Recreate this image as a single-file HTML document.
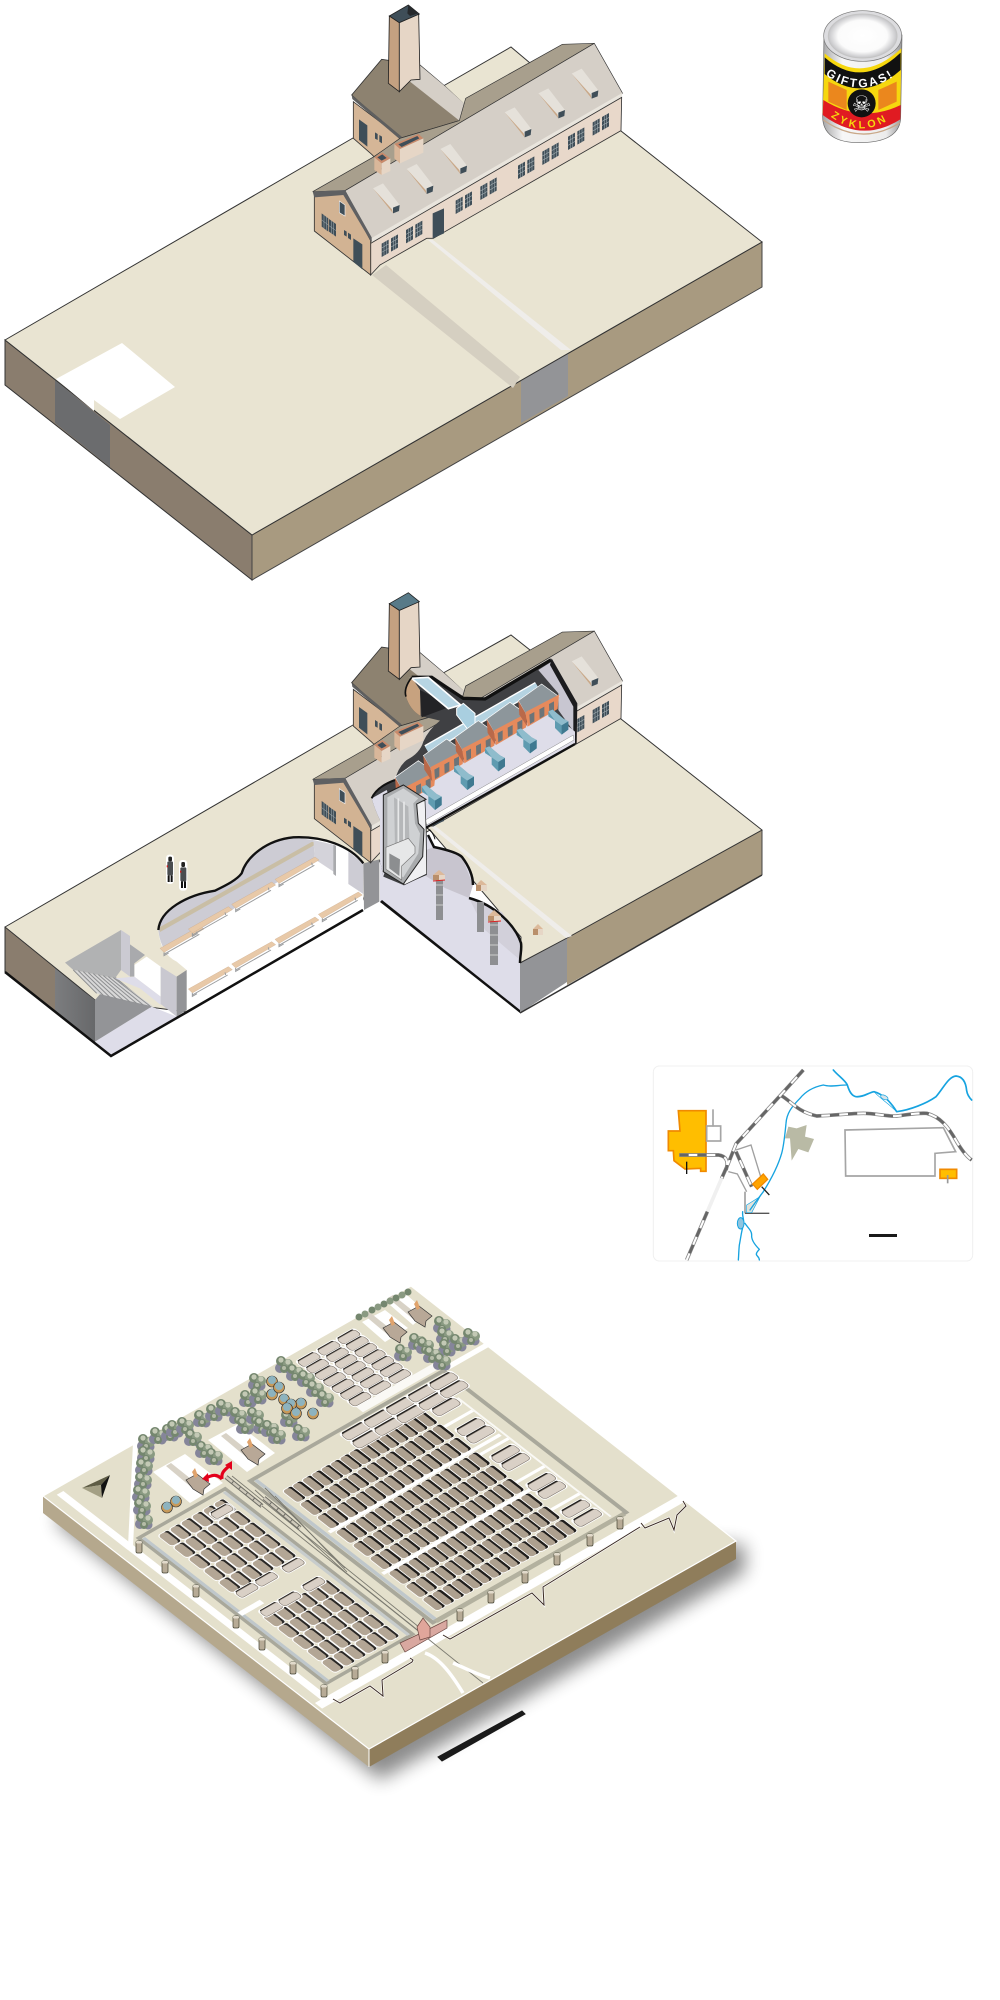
<!DOCTYPE html>
<html lang="de"><head><meta charset="utf-8"><title>Diagram</title>
<style>html,body{margin:0;padding:0;background:#fff}svg{display:block}</style></head>
<body>
<svg width="1000" height="2000" viewBox="0 0 1000 2000" xmlns="http://www.w3.org/2000/svg" font-family="'Liberation Sans',sans-serif">
<defs>
<filter id="blur" x="-20%" y="-20%" width="140%" height="140%"><feGaussianBlur stdDeviation="9"/></filter>
<linearGradient id="metal" x1="0" x2="1" y1="0" y2="0"><stop offset="0" stop-color="#a5a5a7"/><stop offset=".25" stop-color="#f7f7f7"/><stop offset=".8" stop-color="#ececec"/><stop offset="1" stop-color="#98989a"/></linearGradient>
<radialGradient id="lid"><stop offset="0" stop-color="#fff"/><stop offset=".72" stop-color="#fbfbfb"/><stop offset="1" stop-color="#c4c4c7"/></radialGradient>
<linearGradient id="sh" x1="0" x2="1" y1="0" y2="0"><stop offset="0" stop-color="#7c7d7f"/><stop offset="1" stop-color="#67686a"/></linearGradient>

<g id="win"><polygon points="0,0 21,-12 21,28 0,40" fill="#3f4e58"/><path d="M7,-4V36M14,-8V32M0,13L21,1M0,26L21,14" stroke="#a7b2b6" stroke-width="1.6" fill="none"/></g>
<g id="win2"><use href="#win"/><use href="#win" x="28" y="-16"/></g>
<g id="dorm"><polygon points="0,15 30,0 80,65 60,90" fill="#e5e1da"/><polygon points="0,15 60,90 57,78 0,15" fill="#c9a888"/><polygon points="60,73 80,65 78,83 60,90" fill="#3f4e58"/></g>

<g id="bldg">
<polygon points="155,285 245,178 360,195 433,257 490,310 478,362 300,415" fill="#8d8270" stroke="#333" stroke-width="2.5"/>
<polygon points="330,245 360,196 433,257 492,310 478,362" fill="#d5cfc7"/>
<polygon points="160,305 305,415 222,470 215,463 160,415" fill="#d5b697" stroke="#333" stroke-width="2.5"/>
<polygon points="155,285 305,410 300,418 157,297" fill="#5f5f5f"/>
<polygon points="177,358 202,376 202,440 177,420" fill="#3f4e58"/>
<polygon points="225,397 233,402 233,420 225,416" fill="#3f4e58"/><polygon points="238,405 246,410 246,430 238,425" fill="#3f4e58"/>
<polygon points="38,575 222,470 300,415 478,362 497,295 787,133 883,130 135,572" fill="#a89f8d" stroke="#333" stroke-width="2"/>
<polygon points="135,572 883,130 968,280 215,722" fill="#d5cfc7" stroke="#333" stroke-width="2"/>
<polygon points="215,714 968,278 964,293 215,732" fill="#e9e5dd"/>
<polygon points="212,730 965,292 963,392 400,715 380,715 240,795 212,825" fill="#e8d8ca" stroke="#333" stroke-width="2.5"/>
<polygon points="43,585 135,580 212,722 212,825 43,693" fill="#d2b393" stroke="#333" stroke-width="2.5"/>
<polygon points="38,575 135,570 215,712 215,728 130,585 43,592" fill="#5f6062"/>
<use href="#win2" x="245" y="731"/><use href="#win2" x="318" y="690"/><use href="#win2" x="467" y="602"/><use href="#win2" x="541" y="560"/><use href="#win2" x="654" y="497"/><use href="#win2" x="727" y="455"/><use href="#win2" x="804" y="410"/><use href="#win2" x="878" y="367"/>
<polygon points="398,640 432,625 432,700 398,715" fill="#3f4e58"/>
<polygon points="65,640 85,655 85,695 65,680" fill="#3f4e58"/><polygon points="87,657 108,672 108,710 87,695" fill="#3f4e58"/>
<path d="M72,645V685M79,650V690M65,660L85,675M87,677L108,692M94,662V700M101,667V705" stroke="#a7b2b6" stroke-width="1.5"/>
<polygon points="118,603 135,615 135,648 118,638" fill="#3f4e58" stroke="#eee" stroke-width="2"/>
<polygon points="132,690 140,695 140,710 132,705" fill="#3f4e58"/><polygon points="144,698 153,704 153,720 144,714" fill="#3f4e58"/>
<polygon points="160,715 187,733 187,808 160,785" fill="#3f4e58"/>
<polygon points="283,432 355,402 370,415 300,447" fill="#c98a6b"/><polygon points="295,433 352,408 358,415 305,441" fill="#3f4e58"/>
<polygon points="283,432 300,447 300,490 283,475" fill="#d9b79a"/><polygon points="300,447 370,415 370,458 300,490" fill="#e6d6c6"/>
<polygon points="223,472 247,457 271,475 245,490" fill="#c98a6b"/><polygon points="232,472 247,463 260,474 245,482" fill="#3f4e58"/>
<polygon points="223,472 245,490 245,525 223,510" fill="#d9b79a"/><polygon points="245,490 271,475 271,513 245,525" fill="#e6d6c6"/>
<polygon points="268,48 298,68 298,275 265,250" fill="#c4a181" stroke="#222" stroke-width="2.5"/>
<polygon points="298,68 356,42 360,238 333,240 298,275" fill="#e6d6c6" stroke="#222" stroke-width="2.5"/>
</g>

<g id="ov">
<polygon points="0,0 70,-50 122,-12 22,40" fill="#8d969b" stroke="#fff" stroke-width="2"/>
<polygon points="0,0 22,38 27,78 3,42" fill="#b9694a"/>
<polygon points="22,34 122,-18 118,25 28,78" fill="#e68a5c"/>
<polygon points="33,42 48,34 48,62 35,70" fill="#6c7478"/><polygon points="63,26 78,18 78,46 64,54" fill="#6c7478"/><polygon points="92,10 107,2 107,30 93,38" fill="#6c7478"/>
</g>
<g id="st">
<polygon points="0,0 13,-5 45,22 60,30 60,55 40,70 20,50 20,28 0,15" fill="#5f9bb0"/>
<polygon points="0,0 13,-5 45,22 60,30 40,42 20,28" fill="#8fbccc"/>
<polygon points="40,42 60,30 60,55 40,70" fill="#3f7990"/>
</g>
<g id="bn"><polygon points="0,0 120,-67 132,-58 12,12" fill="#e8c9a8" stroke="#c9a888"/><path d="M12,12V22L26,14M110,-50L112,-42M12,18L118,-42" stroke="#9a9c9e" stroke-width="3" fill="none"/></g>

<g id="d"><rect x="-2" y="-2" width="50" height="28" rx="8" fill="#fff"/><rect y="10" width="46" height="14" rx="6" fill="#1f1d1b"/><rect width="46" height="18" rx="7" fill="#ada08f"/></g>
<g id="d2"><rect x="-2" y="-2" width="46" height="30" rx="8" fill="#fff"/><rect y="14" width="42" height="12" rx="5" fill="#2a2826"/><rect width="42" height="21" rx="8" fill="#b3a695"/></g>
<g id="p"><rect x="-6" y="-3" width="33" height="68" rx="9" fill="#fff"/><rect x="-4" y="4" width="8" height="54" rx="4" fill="#1f1d1b"/><rect width="24" height="62" rx="8" fill="#d9d0c6" stroke="#7b7268" stroke-width="1.5"/></g>
<g id="p2"><rect x="-5" y="-3" width="29" height="54" rx="8" fill="#fff"/><rect x="-3" y="3" width="7" height="42" rx="3" fill="#1f1d1b"/><rect width="21" height="48" rx="7" fill="#d9d0c6" stroke="#7b7268" stroke-width="1.5"/></g>
<g id="r16"><use href="#d" y="385"/><use href="#d" y="410"/><use href="#d" y="437"/><use href="#d" y="462"/><use href="#d" y="488"/><use href="#d" y="513"/><use href="#d" y="539"/><use href="#d" y="564"/><use href="#d" y="590"/><use href="#d" y="615"/><use href="#d" y="641"/><use href="#d" y="666"/><use href="#d" y="692"/><use href="#d" y="717"/><use href="#d" y="743"/></g>
<g id="r6"><use href="#d2" y="100"/><use href="#d2" y="130"/><use href="#d2" y="160"/><use href="#d2" y="190"/><use href="#d2" y="220"/><use href="#d2" y="250"/></g>
<g id="c8"><use href="#p2" x="25"/><use href="#p2" x="51"/><use href="#p2" x="77"/><use href="#p2" x="103"/><use href="#p2" x="129"/><use href="#p2" x="155"/><use href="#p2" x="181"/></g>
<g id="t"><circle cx="-4" cy="4" r="5" fill="#85859a"/><circle cx="4" cy="5" r="4.5" fill="#85859a"/><circle cx="-3" cy="-3" r="5" fill="#75876f"/><circle cx="4" cy="0" r="5" fill="#8a9a82"/><circle cx="0" cy="5" r="4" fill="#75876f"/><circle cx="-3" cy="-4" r="2.6" fill="#c3c9b5"/><circle cx="4" cy="-2" r="2.6" fill="#c3c9b5"/><circle cx="0" cy="4" r="2" fill="#b5bca7"/></g>
<g id="tk"><circle cy="1.5" r="5.5" fill="#c79a5a" stroke="#333" stroke-width=".6"/><circle r="4" fill="#8db3bf"/></g>
<g id="tw"><rect x="-3" y="-6" width="6" height="12" fill="#b7ab96" stroke="#443" stroke-width=".7" rx="1.5"/><rect x="-3" y="-6" width="6" height="2.5" fill="#e1dacb" rx="1"/></g>
<g id="kr"><polygon points="-22,-12 -17,-15 8,5 3,9" fill="#d8d2c6"/><polygon points="-2,2 9,-4 22,6 16,11 15,17 5,11" fill="#b8a897" stroke="#333" stroke-width=".7"/><polygon points="4,-6 7,-10 10,-2 7,0" fill="#e0a36c"/></g>

<g id="rp" fill="none" stroke-linejoin="round">
<path d="M460,0L395,72L258,222L235,280L215,325"/><path d="M172,425L110,570"/>
<path d="M395,78C420,90 440,125 500,138C560,136 600,130 640,130C680,130 710,140 740,138C770,135 800,128 830,130C870,140 895,170 920,215C935,240 950,260 965,270"/>
<path d="M88,255H205C225,258 238,270 228,300"/><path d="M258,245L305,350"/>
</g>
</defs>

<!-- ===== BLOCK 1 ===== -->
<polygon points="5,340 252,535 252,580 5,385" fill="#8a7d6e" stroke="#333"/>
<polygon points="252,535 762,242 762,287 252,580" fill="#a89a80" stroke="#444"/>
<polygon points="55,380 110,425 110,467 55,423" fill="#6b6c6e"/>
<polygon points="521,377 568,350 568,396 521,423" fill="#939497"/>
<polygon points="5,340 353,138 445,85 511,47 530,63 621,131 762,242 252,535" fill="#e9e4d2" stroke="#333"/>
<polygon points="372,275 386,265 520,377 513,388" fill="#d5cfc1"/>
<polygon points="428,240 433,240 571,350 561,350" fill="#efedea"/>
<polygon points="56,379 122,343 175,387 120,419 94,400 94,411" fill="#fff"/>
<g transform="translate(300,0) scale(.33333)">
<use href="#bldg"/>
<polygon points="268,48 325,15 358,42 298,68" fill="#3f4e58" stroke="#222" stroke-width="2.5"/><polygon points="325,15 355,40 330,48 322,40" fill="#26292c"/>
<use href="#dorm" x="219" y="550"/><use href="#dorm" x="320" y="492"/><use href="#dorm" x="421" y="432"/><use href="#dorm" x="614" y="322"/><use href="#dorm" x="715" y="265"/><use href="#dorm" x="815" y="206"/>
</g>

<!-- ===== CAN ===== -->
<g transform="translate(810,0) scale(.33333)">
<path d="M42,105L38,350Q38,430 155,428Q272,425 272,350L276,105Z" fill="url(#metal)" stroke="#666" stroke-width="2"/>
<path d="M40,360Q155,440 270,368" fill="none" stroke="#c9a888" stroke-width="4"/>
<ellipse cx="158" cy="108" rx="117" ry="76" fill="#dcdcdf" stroke="#777" stroke-width="2"/>
<ellipse cx="158" cy="108" rx="103" ry="66" fill="url(#lid)" stroke="#c4c4c4" stroke-width="3"/>
<path d="M44,160Q155,257 274,145L271,345Q155,430 38,340Z" fill="#f6d70e"/>
<path d="M44,172Q155,269 272,158L272,210Q155,314 44,222Z" fill="#111"/>
<path d="M40,300Q155,372 272,315L271,358Q155,432 38,345Z" fill="#e01b22"/>
<path d="M55,245l55,25v60l-55,-25zM205,270l55,-25v60l-55,25z" fill="#e2452a" opacity=".55"/>
<circle cx="155" cy="310" r="42" fill="#111"/>
<text x="155" y="335" font-family="'DejaVu Sans',sans-serif" font-size="66" fill="#fff" text-anchor="middle">☠</text>
<path id="cp1" d="M46,225Q155,304 272,215" fill="none"/>
<path id="cp2" d="M62,350Q155,420 250,350" fill="none"/>
<text font-size="36" font-weight="700" fill="#fff" letter-spacing="6.5"><textPath href="#cp1">GIFTGAS!</textPath></text>
<text font-size="32" font-weight="700" fill="#f6d70e" letter-spacing="9.5"><textPath href="#cp2">ZYKLON</textPath></text>
</g>

<!-- ===== BLOCK 2 ===== -->
<polygon points="5,927 5,972 55,1012 55,967" fill="#8a7d6e"/>
<polygon points="55,967 95,1000 95,1042 55,1011" fill="url(#sh)"/>
<polygon points="567,938 762,830 762,875 567,985" fill="#a89a80"/>
<polygon points="520,963 567,938 567,982 520,1013" fill="#939497"/>
<polygon points="5,927 353,725 445,672 511,635 530,650 621,719 762,830 567,938 520,963 521,937 430,830 380,860 363,900 187,1012 95,1000" fill="#e9e4d2" stroke="#333"/>

<!-- right chamber -->
<path d="M380,902L520,1013V963C518,955 524,948 521,943C515,925 495,905 469,898L473,885C470,870 465,862 462,857C452,852 440,850 434,847L428,835L380,840Z" fill="#dedde9"/>
<polygon points="434,847 462,857 473,885 469,898 445,888 400,860" fill="#c8c5cf"/>
<polygon points="469,898 502,912 521,943 520,960 485,930" fill="#d2d0da"/>
<path d="M428,835L434,847C448,850 458,853 462,857C468,865 473,875 473,885M469,898C495,905 515,925 521,943C522,950 520,955 520,963" fill="none" stroke="#111" stroke-width="2.5"/>
<polygon points="380,902 520,1013 520,1010 382,900" fill="#111"/>
<!-- pillars -->
<g><rect x="436" y="878" width="7" height="42" fill="#8e8f92"/><path d="M436,885h7M436,895h7M436,905h7" stroke="#ccc"/><polygon points="433,875 439,870 445,875 439,880" fill="#dcb99a"/><rect x="433" y="875" width="6" height="5" fill="#b98f6a"/><rect x="439" y="875" width="6" height="5" fill="#e6d6c6"/><path d="M433,881L445,880" stroke="#d22" stroke-width="1"/>
<rect x="477" y="902" width="7" height="30" fill="#8e8f92"/>
<rect x="490" y="918" width="8" height="47" fill="#8e8f92"/><path d="M490,925h8M490,935h8M490,945h8M490,955h8" stroke="#ccc"/><polygon points="488,916 494,910 501,916 494,921" fill="#dcb99a"/><rect x="488" y="916" width="6" height="5" fill="#b98f6a"/><rect x="494" y="916" width="7" height="5" fill="#e6d6c6"/><path d="M488,922L501,921" stroke="#d22" stroke-width="1"/>
<polygon points="476,885 481,880 487,885 481,890" fill="#dcb99a"/><rect x="476" y="885" width="5" height="6" fill="#b98f6a"/><rect x="481" y="885" width="6" height="6" fill="#e6d6c6"/>
<polygon points="533,929 538,924 543,929 538,934" fill="#dcb99a"/><rect x="533" y="929" width="5" height="6" fill="#b98f6a"/><rect x="538" y="929" width="5" height="6" fill="#e6d6c6"/></g>
<polygon points="430,826 433,824 572,936 566,938" fill="#efedea"/>

<!-- left chamber z8 -->
<g transform="translate(40,820) scale(.33333)">
<path d="M355,330C360,270 440,225 525,212C560,195 590,180 605,160C620,110 680,60 760,52C850,48 930,78 970,130L970,270L440,575L440,450L410,425Q360,400 355,330Z" fill="#fff"/>
<path d="M355,330C360,270 440,225 525,212C560,195 590,180 605,160C620,110 680,60 760,52L820,60L825,118L375,392Q358,365 355,330Z" fill="#cdccd4"/>
<polygon points="358,322 815,66 822,66 822,76 360,336" fill="#c9bea5"/>
<polygon points="820,60 885,75 885,158 825,118" fill="#d4d3da"/>
<polygon points="880,75 888,77 888,168 880,162" fill="#a9aaad"/>
<polygon points="925,95 970,130 970,222 925,192" fill="#cdccd4"/>
<path d="M355,330C360,270 440,225 525,212C560,195 590,180 605,160C620,110 680,60 760,52C850,48 930,78 970,130" fill="none" stroke="#111" stroke-width="7"/>
<polygon points="970,130 1018,118 1018,245 972,270" fill="#939497"/>
<use href="#bn" x="360" y="385" /><use href="#bn" x="445" y="327"/><use href="#bn" x="575" y="253"/><use href="#bn" x="705" y="178"/>
<use href="#bn" x="445" y="507"/><use href="#bn" x="575" y="432"/><use href="#bn" x="705" y="358"/><use href="#bn" x="835" y="283"/>
<!-- stairs -->
<polygon points="165,665 335,560 410,590 212,708" fill="#dedde9"/>
<polygon points="165,540 225,470 335,560 165,665" fill="#939497"/>
<polygon points="75,428 243,330 243,450 225,475 100,450" fill="#b1b2b3"/>
<polygon points="100,450 225,475 340,560 170,520" fill="#d8d8d8"/>
<path d="M100,450L170,520M115,452L190,526M130,455L210,532M145,458L230,537M160,461L250,541M175,464L270,546M190,467L290,550M205,470L310,555M220,473L330,558" stroke="#8d8e90" stroke-width="3"/>
<polygon points="45,450 165,540 165,665 45,560" fill="url(#sh)"/>
<polygon points="243,330 270,348 270,470 243,450" fill="#cbcad2"/>
<polygon points="283,435 320,410 362,440 362,530 283,470" fill="#fff"/>
<polygon points="270,373 315,405 283,430 283,470 270,470" fill="#a9aaad"/>
<polygon points="225,475 283,470 362,530 362,555 300,505" fill="#dedde9"/>
<polygon points="362,440 410,470 410,590 362,552" fill="#c9c8d0"/>
<polygon points="410,470 440,450 440,570 410,590" fill="#939497"/>
<!-- soldiers -->
<g><rect x="378" y="104" width="24" height="88" rx="10" fill="#fff"/><rect x="382" y="124" width="17" height="42" rx="4" fill="#4a4d50"/><rect x="385" y="110" width="11" height="14" rx="4" fill="#222"/><rect x="383" y="166" width="6" height="20" fill="#111"/><rect x="392" y="166" width="6" height="20" fill="#111"/><rect x="380" y="136" width="4" height="6" fill="#c22"/>
<rect x="417" y="120" width="25" height="92" rx="10" fill="#fff"/><rect x="421" y="142" width="18" height="42" rx="4" fill="#4a4d50"/><rect x="424" y="126" width="11" height="15" rx="4" fill="#222"/><rect x="423" y="184" width="6" height="20" fill="#111"/><rect x="432" y="184" width="6" height="20" fill="#111"/><rect x="420" y="152" width="4" height="6" fill="#c22"/></g>
</g>
<polyline points="5,972 111,1056 187,1012 363,910" fill="none" stroke="#111" stroke-width="2.5"/>
<line x1="520" y1="1013" x2="762" y2="875" stroke="#333" stroke-width="1.5"/>
<line x1="5" y1="927" x2="5" y2="972" stroke="#333"/>
<line x1="762" y1="830" x2="762" y2="875" stroke="#444"/>

<!-- building 2 -->
<g transform="translate(300,587.7) scale(.33333)">
<use href="#bldg"/>
<polygon points="268,48 325,15 358,42 298,68" fill="#587a88" stroke="#222" stroke-width="2.5"/>
<use href="#dorm" x="815" y="206"/>
</g>
<!-- hole z7 -->
<g transform="translate(300,590) scale(.33333)">
<path d="M825,462L830,345L752,205L555,322L492,322L440,290L395,262L335,262Q310,300 318,320Q330,360 362,378L420,392Q385,420 370,455Q360,490 320,510Q295,530 285,570Q230,590 215,625Q225,660 240,690L240,810L250,860L310,885L380,855L380,712Z" fill="#3f4043"/>
<path d="M335,262Q310,300 318,320Q330,360 362,378L360,300Z" fill="#c7a27f"/>
<polygon points="360,300 400,320 445,352 365,382" fill="#232326"/>
<polyline points="335,262 395,262 440,292 490,325 555,327 752,210" fill="none" stroke="#111" stroke-width="10"/>
<polygon points="715,240 755,215 825,345 825,430 775,360 775,310" fill="#c8c6d1"/>
<polygon points="755,205 832,340 830,462 820,462 820,350 750,225" fill="#1c1c1e"/>
<path d="M215,625Q225,660 240,690L240,810L250,860L300,700L260,600Z" fill="#dedde9"/>
<polygon points="335,600 745,360 825,425 825,460 380,712 375,650" fill="#dedde9"/>
<polygon points="376,690 820,435 822,450 380,705" fill="#fff" stroke="#888" stroke-width="1.5"/>
<!-- ducts -->
<polygon points="335,265 385,262 482,345 445,356" fill="#b7d5e3" stroke="#fff" stroke-width="5"/>
<line x1="380" y1="478" x2="712" y2="288" stroke="#fff" stroke-width="28"/>
<line x1="380" y1="478" x2="712" y2="288" stroke="#b5d3e1" stroke-width="20"/>
<polygon points="470,355 490,340 525,370 525,410 505,420 470,375" fill="#a9cfe0" stroke="#fff" stroke-width="3"/>
<!-- ovens -->
<use href="#ov" x="285" y="562"/><use href="#ov" x="370" y="497"/><use href="#ov" x="465" y="442"/><use href="#ov" x="560" y="387"/><use href="#ov" x="655" y="332"/>
<use href="#st" x="365" y="590"/><use href="#st" x="462" y="530"/><use href="#st" x="555" y="474"/><use href="#st" x="650" y="420"/><use href="#st" x="745" y="364"/>
<!-- shaft -->
<polygon points="375,632 378,710 380,852 312,885 310,640" fill="#f0f0f2" stroke="#222" stroke-width="2"/>
<polygon points="250,615 310,585 378,628 350,642 355,700 372,718 368,800 310,882 250,845" fill="#a9abad" stroke="#222" stroke-width="3"/>
<polygon points="262,622 310,595 355,625 340,640 345,700 360,730 355,790 310,862 262,830" fill="#cfd1d3"/>
<polygon points="282,622 325,650 328,745 285,770" fill="#b5b7b9"/>
<path d="M295,625V765M312,635V755" stroke="#e7e8e9" stroke-width="5"/>
<polygon points="258,772 325,745 345,770 345,790 305,828 305,870 258,838" fill="#e6e7e8" stroke="#777" stroke-width="2"/>
<polygon points="268,790 300,808 298,858 268,835" fill="#8c8e90"/>
<path d="M378,712Q400,725 405,748" fill="none" stroke="#111" stroke-width="3"/>
<polyline points="380,712 825,462" fill="none" stroke="#111" stroke-width="7"/>
<path d="M215,625Q230,590 285,570" fill="none" stroke="#111" stroke-width="6"/>
<path d="M318,320Q310,295 335,262" fill="none" stroke="#111" stroke-width="5"/>
</g>

<!-- ===== LOCATION MAP ===== -->
<g transform="translate(650,1070) scale(.33333)">
<rect x="10" y="-12" width="958" height="585" rx="18" fill="#fff" stroke="#f0f0f0" stroke-width="3"/>
<polygon points="85,122 168,122 168,304 152,304 152,295 105,297 72,272 70,242 55,242 55,183 90,183" fill="#ffbe00" stroke="#f08a00" stroke-width="5"/>
<rect x="170" y="168" width="42" height="45" fill="#fff" stroke="#a5a5a5" stroke-width="5"/>
<line x1="189" y1="118" x2="189" y2="170" stroke="#a5a5a5" stroke-width="5"/>
<line x1="110" y1="275" x2="110" y2="312" stroke="#111" stroke-width="4"/>
<line x1="215" y1="325" x2="172" y2="425" stroke="#f0f0f0" stroke-width="11"/>
<polyline points="258,240 303,225 332,320" fill="none" stroke="#a0a0a0" stroke-width="4"/>
<polyline points="235,305 262,312 290,365" fill="none" stroke="#a0a0a0" stroke-width="4"/>
<polyline points="285,365 285,430" fill="none" stroke="#a0a0a0" stroke-width="5"/>
<polyline points="285,430 358,430" fill="none" stroke="#555" stroke-width="4"/>
<polygon points="290,405 330,380 305,428 290,428" fill="#e3e3db" stroke="#16a3e0" stroke-width="2"/>
<polygon points="415,170 440,175 470,165 465,200 492,207 475,247 445,237 425,272 420,205 405,205" fill="#b9baa5"/>
<polygon points="585,180 880,173 917,245 855,250 855,318 587,318" fill="#fff" stroke="#a5a5a5" stroke-width="5"/>
<rect x="870" y="298" width="50" height="27" fill="#ffbe00" stroke="#f08a00" stroke-width="5"/>
<line x1="893" y1="315" x2="893" y2="340" stroke="#999" stroke-width="5"/>
<g fill="none" stroke="#16a3e0" stroke-linecap="round" stroke-linejoin="round">
<path stroke-width="5" d="M550,0C565,18 585,30 592,45C598,65 605,78 618,80C640,82 655,68 672,65C700,72 725,100 740,125C780,120 830,100 858,80C880,55 895,20 918,18C940,20 948,40 950,62C952,75 960,85 965,90"/>
<path stroke-width="4" d="M590,45C565,45 540,52 520,45C495,50 470,60 450,85C425,110 410,130 408,160C405,190 402,225 395,250C385,285 365,325 340,365C325,385 310,405 300,420"/>
<path stroke-width="4" d="M278,425C276,440 284,450 280,465C274,485 272,505 268,525C266,545 266,560 265,570"/>
<path stroke-width="4" d="M285,460C295,475 305,482 305,495C303,512 320,530 328,538C322,545 315,552 322,558C326,562 328,566 328,570"/>
<path stroke-width="2" d="M672,65C690,85 715,100 740,125"/>
</g>
<ellipse cx="272" cy="460" rx="10" ry="17" fill="#8ec5e0" stroke="#16a3e0" stroke-width="3"/>
<ellipse cx="703" cy="82" rx="12" ry="6" transform="rotate(25 703 82)" fill="#d8e4ea" stroke="#16a3e0" stroke-width="2"/>
<use href="#rp" stroke="#8a8a8a" stroke-width="11"/>
<use href="#rp" stroke="#fff" stroke-width="6"/>
<use href="#rp" stroke="#666" stroke-width="8" stroke-dasharray="28 26"/>
<polygon points="340,312 353,328 322,358 308,342" fill="#ffa400" stroke="#f08a00" stroke-width="4"/>
<line x1="335" y1="350" x2="358" y2="375" stroke="#222" stroke-width="4"/>
<rect x="657" y="492" width="84" height="9" fill="#1a1a1a"/>
</g>

<!-- ===== AERIAL ===== -->
<polygon points="58,1525 380,1780 745,1572 745,1545 58,1510" fill="#000" opacity=".45" filter="url(#blur)"/>
<polygon points="43,1496 369,1749 369,1767 43,1513" fill="#b5a88d"/>
<polygon points="369,1749 736,1541 736,1559 369,1767" fill="#8f7d5b"/>
<polygon points="411,1286 736,1541 369,1749 43,1496" fill="#e4e0cc" stroke="#fff" stroke-width="1.2"/>
<line x1="369" y1="1749" x2="369" y2="1767" stroke="#fff"/>
<g transform="matrix(.326 .253 .368 -.21 43 1496)">
<!-- roads -->
<rect x="15" y="24" width="815" height="18" fill="#fff"/>
<rect x="825" y="8" width="22" height="990" fill="#fff"/>
<rect x="226" y="880" width="14" height="118" fill="#fff"/>
<rect x="205" y="670" width="20" height="210" fill="#fff" opacity=".8"/>
<!-- sub camp fences -->
<rect x="220" y="65" width="575" height="235" fill="none" stroke="#a9a89b" stroke-width="9"/>
<rect x="226" y="69" width="566" height="8" fill="#bfc7cb"/>
<rect x="226" y="288" width="566" height="8" fill="#c7cccc"/>
<rect x="518" y="70" width="14" height="60" fill="#fff"/>
<rect x="235" y="355" width="560" height="525" fill="none" stroke="#a9a89b" stroke-width="10"/>
<rect x="240" y="361" width="552" height="9" fill="#bfc7cb"/>
<rect x="790" y="362" width="12" height="512" fill="#b3b19f"/>
<!-- white lanes big camp -->
<rect x="450" y="375" width="9" height="465" fill="#fff"/><rect x="614" y="375" width="9" height="465" fill="#fff"/>
<rect x="360" y="765" width="8" height="80" fill="#fff"/><rect x="470" y="765" width="8" height="80" fill="#fff"/><rect x="580" y="765" width="8" height="80" fill="#fff"/><rect x="688" y="765" width="8" height="80" fill="#fff"/>
<rect x="315" y="845" width="470" height="5" fill="#fff" opacity=".8"/>
<!-- sections -->
<use href="#r6" x="240"/><use href="#r6" x="286"/><use href="#r6" x="332"/><use href="#r6" x="378"/><use href="#r6" x="424"/>
<use href="#r6" x="560"/><use href="#r6" x="605"/><use href="#r6" x="650"/><use href="#r6" x="695"/><use href="#r6" x="740"/>
<use href="#p2" x="470" y="105"/><use href="#p2" x="470" y="158"/><use href="#p2" x="473" y="228"/><use href="#p2" x="258" y="225"/><use href="#p2" x="545" y="105"/><use href="#p2" x="545" y="155"/><use href="#p2" x="543" y="222"/>
<!-- big camp -->
<use href="#r16" x="300"/><use href="#r16" x="352"/><use href="#r16" x="404"/><use href="#r16" x="462"/><use href="#r16" x="514"/><use href="#r16" x="566"/><use href="#r16" x="624"/><use href="#r16" x="676"/><use href="#r16" x="728"/>
<use href="#p" x="248" y="590"/><use href="#p" x="248" y="650"/><use href="#p" x="248" y="710"/><use href="#p" x="248" y="770"/><use href="#p" x="248" y="828"/>
<use href="#p" x="280" y="590"/><use href="#p" x="280" y="650"/><use href="#p" x="280" y="710"/><use href="#p" x="280" y="770"/><use href="#p" x="280" y="828" />
<use href="#p" x="310" y="780"/><use href="#p" x="388" y="778"/><use href="#p" x="417" y="778"/><use href="#p" x="494" y="778"/><use href="#p" x="525" y="778"/><use href="#p" x="605" y="778"/><use href="#p" x="636" y="778"/><use href="#p" x="710" y="778"/><use href="#p" x="746" y="778"/>
<!-- north barracks -->
<use href="#c8" y="668"/><use href="#c8" y="722"/><use href="#c8" y="776"/>
</g>
<!-- diagonal road -->
<polygon points="133,1443 138,1441 133,1547 128,1546" fill="#fff"/>
<!-- yards -->
<g fill="#fff"><polygon points="153,1472 185,1454 223,1483 190,1503"/><polygon points="208,1440 238,1424 275,1453 247,1472"/><polygon points="362,1322 385,1310 408,1328 385,1342"/><polygon points="390,1305 407,1295 427,1313 413,1325"/></g>
<use href="#kr" x="188" y="1478"/><use href="#kr" x="243" y="1448"/><use href="#kr" x="385" y="1326"/><use href="#kr" x="410" y="1310"/>
<!-- trees -->
<g>
<use href="#t" x="146" y="1442"/><use href="#t" x="146" y="1454"/><use href="#t" x="144" y="1466"/><use href="#t" x="143" y="1480"/><use href="#t" x="141" y="1493"/><use href="#t" x="142" y="1506"/><use href="#t" x="144" y="1520"/>
<use href="#t" x="158" y="1435"/><use href="#t" x="170" y="1432"/><use href="#t" x="175" y="1428"/><use href="#t" x="185" y="1425"/><use href="#t" x="193" y="1437"/><use href="#t" x="204" y="1449"/><use href="#t" x="214" y="1456"/>
<use href="#t" x="202" y="1418"/><use href="#t" x="214" y="1412"/><use href="#t" x="224" y="1407"/><use href="#t" x="238" y="1415"/><use href="#t" x="248" y="1398"/><use href="#t" x="257" y="1381"/><use href="#t" x="245" y="1425"/><use href="#t" x="255" y="1415"/><use href="#t" x="262" y="1425"/><use href="#t" x="270" y="1428"/><use href="#t" x="277" y="1435"/><use href="#t" x="289" y="1418"/><use href="#t" x="301" y="1432"/><use href="#t" x="258" y="1395"/>
<use href="#t" x="284" y="1364"/><use href="#t" x="295" y="1372"/><use href="#t" x="306" y="1378"/><use href="#t" x="315" y="1388"/><use href="#t" x="325" y="1398"/>
<use href="#t" x="403" y="1352"/><use href="#t" x="417" y="1341"/><use href="#t" x="425" y="1345"/><use href="#t" x="442" y="1324"/><use href="#t" x="445" y="1335"/><use href="#t" x="447" y="1347"/><use href="#t" x="458" y="1342"/><use href="#t" x="471" y="1336"/><use href="#t" x="432" y="1354"/><use href="#t" x="442" y="1361"/>
</g>
<g transform="translate(0,0)"><circle cx="359" cy="1317" r="3.5" fill="#75876f"/><circle cx="365" cy="1314" r="3.5" fill="#8a9a82"/><circle cx="372" cy="1310" r="3.5" fill="#75876f"/><circle cx="378" cy="1307" r="3.5" fill="#8a9a82"/><circle cx="384" cy="1304" r="3.5" fill="#75876f"/><circle cx="390" cy="1301" r="3.5" fill="#8a9a82"/><circle cx="396" cy="1298" r="3.5" fill="#75876f"/><circle cx="402" cy="1295" r="3.5" fill="#8a9a82"/><circle cx="408" cy="1292" r="3.5" fill="#75876f"/></g>
<g>
<use href="#tk" x="272" y="1380"/><use href="#tk" x="272" y="1393"/><use href="#tk" x="279" y="1386"/><use href="#tk" x="284" y="1398"/><use href="#tk" x="301" y="1402"/><use href="#tk" x="291" y="1403"/><use href="#tk" x="287" y="1407"/><use href="#tk" x="296" y="1412"/><use href="#tk" x="313" y="1412"/><use href="#tk" x="167" y="1506"/><use href="#tk" x="176" y="1500"/>
</g>
<!-- rail -->
<g fill="none" stroke="#7b7a70" stroke-width=".9">
<path d="M227,1478L427,1638L483,1683"/><path d="M232,1476L430,1636"/><path d="M255,1490L345,1572L425,1636"/><path d="M265,1488L345,1568"/><path d="M275,1496L347,1572"/>
</g>
<path d="M226,1477L262,1506" stroke="#6f6e66" stroke-width="4.5"/><path d="M226,1477L262,1506" stroke="#cfcabb" stroke-width="2.5" stroke-dasharray="8 1"/>
<path d="M264,1498L300,1528" stroke="#6f6e66" stroke-width="4.5"/><path d="M264,1498L300,1528" stroke="#cfcabb" stroke-width="2.5" stroke-dasharray="8 1"/>
<!-- white road at gate -->
<path d="M425,1653C440,1658 452,1675 463,1693M453,1663C465,1668 478,1675 490,1678" fill="none" stroke="#fff" stroke-width="3.5"/>
<!-- gate -->
<g stroke="#6d4a44" stroke-width=".7">
<polygon points="400,1643 417,1635 447,1620 447,1628 405,1652" fill="#d9a8a0"/>
<polygon points="417,1627 423,1618 430,1627 430,1637 420,1640" fill="#e0a69b"/>
</g>
<!-- towers -->
<use href="#tw" x="139" y="1547"/><use href="#tw" x="165" y="1567"/><use href="#tw" x="196" y="1591"/><use href="#tw" x="236" y="1622"/><use href="#tw" x="262" y="1644"/><use href="#tw" x="293" y="1668"/><use href="#tw" x="324" y="1691"/><use href="#tw" x="355" y="1673"/><use href="#tw" x="385" y="1657"/><use href="#tw" x="460" y="1615"/><use href="#tw" x="491" y="1597"/><use href="#tw" x="525" y="1577"/><use href="#tw" x="557" y="1559"/><use href="#tw" x="590" y="1540"/><use href="#tw" x="620" y="1523"/>
<!-- fence lines -->
<g fill="none" stroke="#fff" stroke-width="2.2"><polyline points="443,1635 450,1639 532,1593 544,1605 543,1587 640,1527"/><polyline points="641,1523 645,1528 669,1518 674,1530 677,1515 686,1506 683,1501"/><polyline points="333,1699 340,1703 370,1686 383,1696 382,1680 412,1662 413,1660 410,1658"/></g>
<g fill="none" stroke="#3a2a22" stroke-width="1"><polyline points="443,1635 450,1639 532,1593 544,1605 543,1587 640,1527"/><polyline points="641,1523 645,1528 669,1518 674,1530 677,1515 686,1506 683,1501"/><polyline points="333,1699 340,1703 370,1686 383,1696 382,1680 412,1662 413,1660 410,1658"/></g>
<!-- arrows -->
<g fill="none" stroke="#e3001b" stroke-width="3.2"><path d="M222,1479C215,1472 210,1477 205,1478"/><path d="M222,1479C221,1472 225,1470 229,1466"/></g>
<polygon points="202,1479 208,1473 209,1482" fill="#e3001b"/><polygon points="232,1461 225,1465 232,1470" fill="#e3001b"/>
<!-- north -->
<polygon points="82,1488 110,1475 101,1485" fill="#5e5c45"/><polygon points="82,1488 101,1485 102,1498" fill="#a4a085"/><polygon points="110,1475 101,1485 102,1498" fill="#111"/>
<text x="110" y="1474" font-size="15" fill="#111" transform="rotate(-30 110 1474) skewX(-15)">N</text>
<!-- scale -->
<polygon points="438,1757 522,1711 525,1714 442,1761" fill="#1a1a1a" stroke="#1a1a1a" stroke-width="1"/>
</svg>
</body></html>
